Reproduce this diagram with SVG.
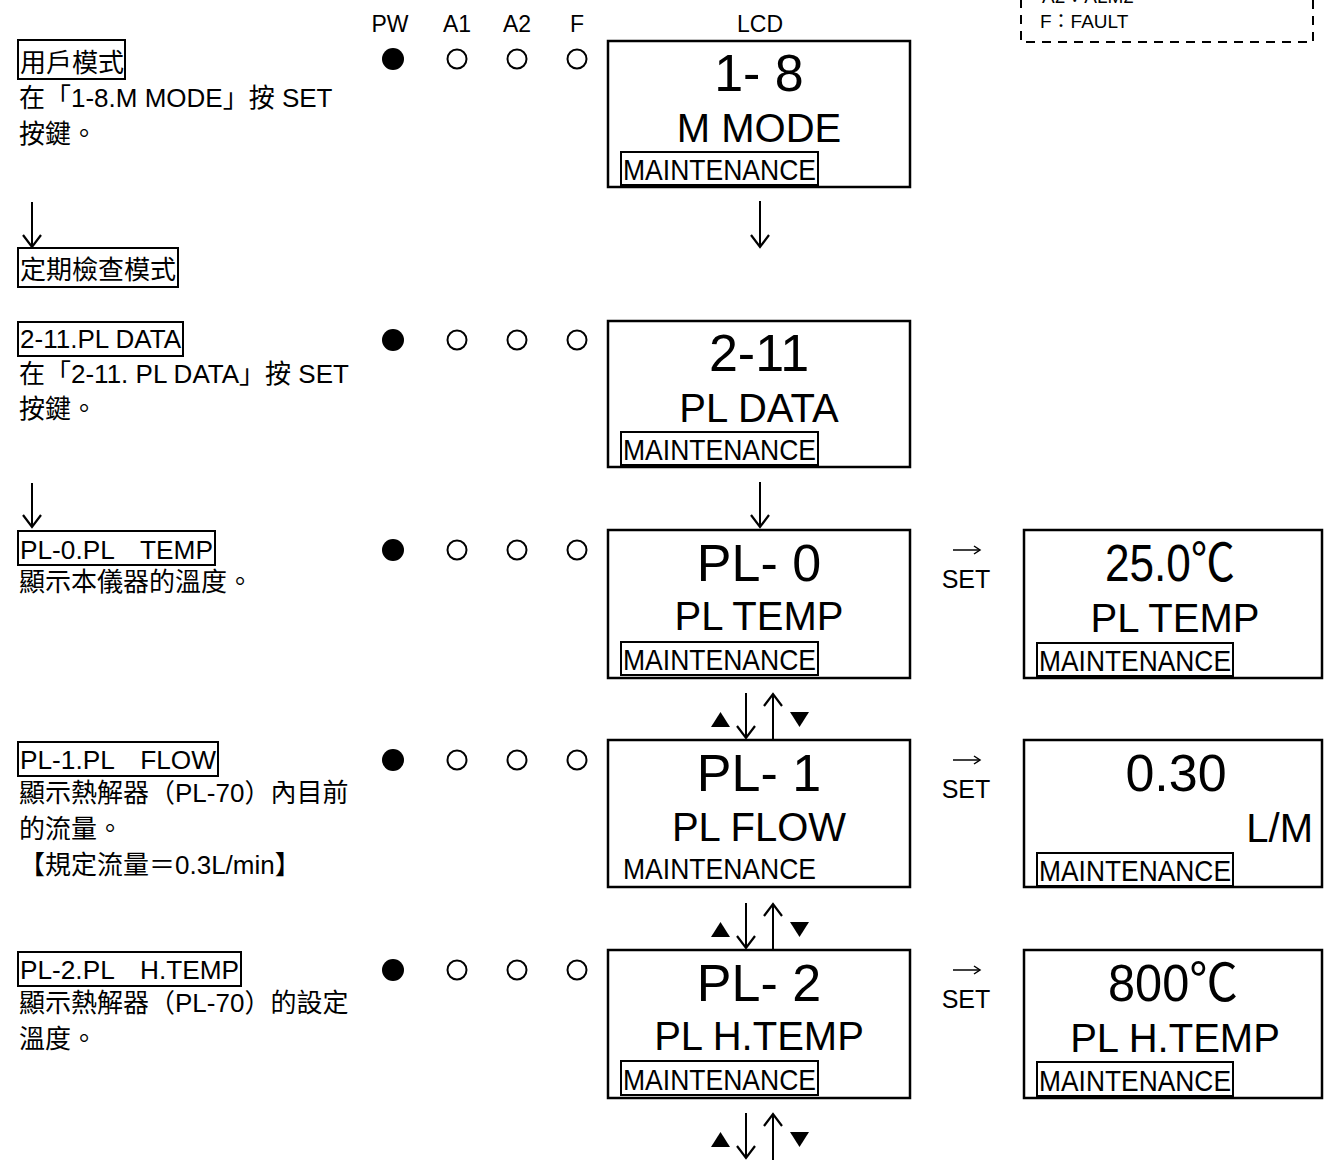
<svg xmlns="http://www.w3.org/2000/svg" width="1330" height="1163" viewBox="0 0 1330 1163">
<defs>
<style>
text{font-family:"Liberation Sans","Noto Sans CJK TC",sans-serif;fill:#000}
.t{font-size:26px}
.hdr{font-size:23px;text-anchor:middle}
.big{font-size:52px;text-anchor:middle}
.mid{font-size:40px;text-anchor:middle}
.mt{font-size:30px}
.set{font-size:25px;text-anchor:middle}
.leg{font-size:19px}
.lb{fill:none;stroke:#000;stroke-width:2}
.lcd{fill:#fff;stroke:#000;stroke-width:2.5}
.on{fill:#000}
.off{fill:none;stroke:#000;stroke-width:2}
.ln{fill:none;stroke:#000;stroke-width:2}
.tri{fill:#000}
</style>
<marker id="ah" viewBox="-14 -11 16 22" refX="0" refY="0" markerWidth="16" markerHeight="22" markerUnits="userSpaceOnUse" orient="auto">
<path d="M-12,-9 L0,0 L-12,9" fill="none" stroke="#000" stroke-width="2.2"/>
</marker>
<marker id="ahs" viewBox="-14 -11 16 22" refX="0" refY="0" markerWidth="16" markerHeight="22" markerUnits="userSpaceOnUse" orient="auto">
<path d="M-6,-4 L0,0 L-6,4" fill="none" stroke="#000" stroke-width="1.5"/>
</marker>
</defs>
<rect width="1330" height="1163" fill="#fff"/>

<g id="legend">
<rect x="1021" y="-60" width="292" height="102" fill="none" stroke="#000" stroke-width="2" stroke-dasharray="9 7"/>
<text class="leg" x="1042" y="3">A2：ALM2</text>
<text class="leg" x="1040" y="28">F：FAULT</text>
</g>

<g id="header">
<text class="hdr" x="390" y="32">PW</text>
<text class="hdr" x="457" y="32">A1</text>
<text class="hdr" x="517" y="32">A2</text>
<text class="hdr" x="577" y="32">F</text>
<text class="hdr" x="760" y="32">LCD</text>
</g>

<g id="step-user-mode">
<rect class="lb" x="18" y="40" width="107" height="39"/>
<text class="t" x="20" y="72">用戶模式</text>
<text class="t" x="19" y="107">在「1-8.M MODE」按 SET</text>
<text class="t" x="19" y="143">按鍵。</text>
</g>

<g id="step-periodic">
<rect class="lb" x="18" y="248" width="160" height="39"/>
<text class="t" x="20" y="279">定期檢查模式</text>
</g>

<g id="step-2-11">
<rect class="lb" x="18" y="322" width="165" height="34"/>
<text class="t" x="20" y="348" textLength="161" lengthAdjust="spacingAndGlyphs">2-11.PL DATA</text>
<text class="t" x="19" y="383">在「2-11. PL DATA」按 SET</text>
<text class="t" x="19" y="418">按鍵。</text>
</g>

<g id="step-pl0">
<rect class="lb" x="18" y="531" width="197" height="34"/>
<text class="t" x="20" y="559" textLength="193" lengthAdjust="spacingAndGlyphs">PL-0.PL　TEMP</text>
<text class="t" x="19" y="591">顯示本儀器的溫度。</text>
</g>

<g id="step-pl1">
<rect class="lb" x="18" y="742" width="200" height="34"/>
<text class="t" x="20" y="769" textLength="196" lengthAdjust="spacingAndGlyphs">PL-1.PL　FLOW</text>
<text class="t" x="19" y="802">顯示熱解器（PL-70）內目前</text>
<text class="t" x="19" y="838">的流量。</text>
<text class="t" x="19" y="874">【規定流量＝0.3L/min】</text>
</g>

<g id="step-pl2">
<rect class="lb" x="18" y="952" width="223" height="34"/>
<text class="t" x="20" y="979" textLength="219" lengthAdjust="spacingAndGlyphs">PL-2.PL　H.TEMP</text>
<text class="t" x="19" y="1012">顯示熱解器（PL-70）的設定</text>
<text class="t" x="19" y="1048">溫度。</text>
</g>

<g id="leds">
<circle class="on" cx="393" cy="59" r="11"/><circle class="off" cx="457" cy="59" r="9.5"/><circle class="off" cx="517" cy="59" r="9.5"/><circle class="off" cx="577" cy="59" r="9.5"/>
<circle class="on" cx="393" cy="340" r="11"/><circle class="off" cx="457" cy="340" r="9.5"/><circle class="off" cx="517" cy="340" r="9.5"/><circle class="off" cx="577" cy="340" r="9.5"/>
<circle class="on" cx="393" cy="550" r="11"/><circle class="off" cx="457" cy="550" r="9.5"/><circle class="off" cx="517" cy="550" r="9.5"/><circle class="off" cx="577" cy="550" r="9.5"/>
<circle class="on" cx="393" cy="760" r="11"/><circle class="off" cx="457" cy="760" r="9.5"/><circle class="off" cx="517" cy="760" r="9.5"/><circle class="off" cx="577" cy="760" r="9.5"/>
<circle class="on" cx="393" cy="970" r="11"/><circle class="off" cx="457" cy="970" r="9.5"/><circle class="off" cx="517" cy="970" r="9.5"/><circle class="off" cx="577" cy="970" r="9.5"/>
</g>

<g id="lcd-1-8">
<rect class="lcd" x="608" y="41" width="302" height="146"/>
<text class="big" x="759" y="91">1- 8</text>
<text class="mid" x="759" y="142">M MODE</text>
<rect class="lb" x="621" y="152" width="197" height="33"/>
<text class="mt" x="623" y="180" textLength="193" lengthAdjust="spacingAndGlyphs">MAINTENANCE</text>
</g>

<g id="lcd-2-11">
<rect class="lcd" x="608" y="321" width="302" height="146"/>
<text class="big" x="759" y="371">2-11</text>
<text class="mid" x="759" y="422">PL DATA</text>
<rect class="lb" x="621" y="432" width="197" height="33"/>
<text class="mt" x="623" y="460" textLength="193" lengthAdjust="spacingAndGlyphs">MAINTENANCE</text>
</g>

<g id="lcd-pl0">
<rect class="lcd" x="608" y="530" width="302" height="148"/>
<text class="big" x="759" y="581">PL- 0</text>
<text class="mid" x="759" y="630">PL TEMP</text>
<rect class="lb" x="621" y="642" width="197" height="33"/>
<text class="mt" x="623" y="670" textLength="193" lengthAdjust="spacingAndGlyphs">MAINTENANCE</text>
</g>

<g id="lcd-pl0-set">
<rect class="lcd" x="1024" y="530" width="298" height="148"/>
<text class="big" x="1170" y="581" textLength="130" lengthAdjust="spacingAndGlyphs">25.0℃</text>
<text class="mid" x="1175" y="632">PL TEMP</text>
<rect class="lb" x="1037" y="643" width="196" height="33"/>
<text class="mt" x="1039" y="671" textLength="192" lengthAdjust="spacingAndGlyphs">MAINTENANCE</text>
</g>

<g id="lcd-pl1">
<rect class="lcd" x="608" y="740" width="302" height="147"/>
<text class="big" x="759" y="791">PL- 1</text>
<text class="mid" x="759" y="841">PL FLOW</text>
<text class="mt" x="623" y="879" textLength="193" lengthAdjust="spacingAndGlyphs">MAINTENANCE</text>
</g>

<g id="lcd-pl1-set">
<rect class="lcd" x="1024" y="740" width="298" height="147"/>
<text class="big" x="1176" y="791">0.30</text>
<text class="mid" x="1313" y="842" style="text-anchor:end">L/M</text>
<rect class="lb" x="1037" y="853" width="196" height="33"/>
<text class="mt" x="1039" y="881" textLength="192" lengthAdjust="spacingAndGlyphs">MAINTENANCE</text>
</g>

<g id="lcd-pl2">
<rect class="lcd" x="608" y="950" width="302" height="148"/>
<text class="big" x="759" y="1001">PL- 2</text>
<text class="mid" x="759" y="1050">PL H.TEMP</text>
<rect class="lb" x="621" y="1061" width="197" height="34"/>
<text class="mt" x="623" y="1090" textLength="193" lengthAdjust="spacingAndGlyphs">MAINTENANCE</text>
</g>

<g id="lcd-pl2-set">
<rect class="lcd" x="1024" y="950" width="298" height="148"/>
<text class="big" x="1173" y="1001" textLength="130" lengthAdjust="spacingAndGlyphs">800℃</text>
<text class="mid" x="1175" y="1052">PL H.TEMP</text>
<rect class="lb" x="1037" y="1062" width="196" height="34"/>
<text class="mt" x="1039" y="1091" textLength="192" lengthAdjust="spacingAndGlyphs">MAINTENANCE</text>
</g>

<g id="connectors">
<line class="ln" x1="32" y1="202" x2="32" y2="247" marker-end="url(#ah)"/>
<line class="ln" x1="760" y1="201" x2="760" y2="247" marker-end="url(#ah)"/>
<line class="ln" x1="32" y1="483" x2="32" y2="527" marker-end="url(#ah)"/>
<line class="ln" x1="760" y1="482" x2="760" y2="527" marker-end="url(#ah)"/>

<path class="tri" d="M711,727 L720.5,712 L730,727 Z"/>
<line class="ln" x1="746" y1="693" x2="746" y2="738" marker-end="url(#ah)"/>
<line class="ln" x1="773" y1="740" x2="773" y2="694" marker-end="url(#ah)"/>
<path class="tri" d="M790,712 L809,712 L799.5,727 Z"/>

<path class="tri" d="M711,937 L720.5,922 L730,937 Z"/>
<line class="ln" x1="746" y1="903" x2="746" y2="948" marker-end="url(#ah)"/>
<line class="ln" x1="773" y1="950" x2="773" y2="904" marker-end="url(#ah)"/>
<path class="tri" d="M790,922 L809,922 L799.5,937 Z"/>

<path class="tri" d="M711,1147 L720.5,1132 L730,1147 Z"/>
<line class="ln" x1="746" y1="1113" x2="746" y2="1158" marker-end="url(#ah)"/>
<line class="ln" x1="773" y1="1160" x2="773" y2="1114" marker-end="url(#ah)"/>
<path class="tri" d="M790,1132 L809,1132 L799.5,1147 Z"/>

<line x1="953" y1="550" x2="980" y2="550" stroke="#000" stroke-width="1.5" marker-end="url(#ahs)"/>
<text class="set" x="966" y="588">SET</text>
<line x1="953" y1="760" x2="980" y2="760" stroke="#000" stroke-width="1.5" marker-end="url(#ahs)"/>
<text class="set" x="966" y="798">SET</text>
<line x1="953" y1="970" x2="980" y2="970" stroke="#000" stroke-width="1.5" marker-end="url(#ahs)"/>
<text class="set" x="966" y="1008">SET</text>
</g>
</svg>
